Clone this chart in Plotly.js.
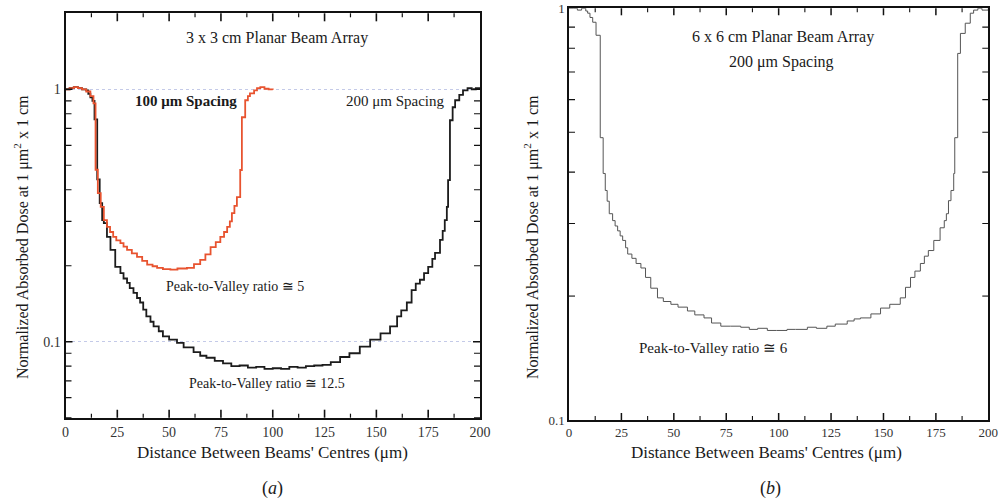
<!DOCTYPE html>
<html>
<head>
<meta charset="utf-8">
<script src="https://cdn.plot.ly/plotly-3.0.1.min.js"></script>
<style>html,body{margin:0;padding:0;background:#fff;}#chart{width:1001px;height:501px;}</style>
</head>
<body>
<div id="chart"></div>
<script>
// ---- Data ----
// Panel (a): 3 x 3 cm array, 200 um spacing (black)
const xA200 = [0,2,4,6,8,10,11,12,13,14,15.3,16.5,17.7,18.5,20,21.7,24,26.5,28,29.7,31,32.8,34.5,36,37.5,39,41,42.5,45,47,50,53.8,57,61.8,65,68,72,76,80,84,88,92,96,100,104,108,112,116,120,124,128,132.5,137,142,147,152,156.6,160,162,164.7,167,169,171,173,175,177,178.3,180.7,182,183,184,184.6,185.5,186.8,188,190,191.8,194,196,198,200];
const yA200 = [1.0,1.01,1.02,1.01,1.0,0.99,0.96,0.93,0.90,0.76,0.44,0.354,0.303,0.295,0.26,0.231,0.198,0.187,0.178,0.171,0.163,0.156,0.149,0.143,0.134,0.126,0.120,0.115,0.110,0.105,0.102,0.099,0.095,0.091,0.088,0.0864,0.084,0.082,0.080,0.0805,0.079,0.0795,0.078,0.0785,0.078,0.0795,0.079,0.080,0.0805,0.081,0.083,0.087,0.090,0.0956,0.102,0.108,0.115,0.126,0.133,0.143,0.160,0.170,0.176,0.187,0.198,0.213,0.225,0.253,0.275,0.303,0.342,0.437,0.754,0.849,0.905,0.95,0.99,1.01,1.0,1.01,1.0];
// Panel (a): 100 um spacing (red)
const xA100 = [0,2,4,6,8,10,12,13.5,14.5,15.6,17,18.5,20,21.5,23,24.5,26.5,28,29.7,32,34.5,37,39.4,42,44.2,47,50.6,54,58.6,62,65,67.5,70,72.5,74.7,76.5,78,79.3,80.3,81.5,82.7,84.3,85.1,86.7,88,89,91,92.4,94,96,98,100];
const yA100 = [1.0,1.01,1.02,1.01,1.0,0.98,0.94,0.88,0.48,0.388,0.342,0.303,0.285,0.272,0.26,0.252,0.246,0.238,0.231,0.224,0.217,0.209,0.202,0.199,0.196,0.194,0.193,0.195,0.196,0.203,0.211,0.222,0.237,0.248,0.26,0.272,0.285,0.30,0.323,0.345,0.374,0.479,0.775,0.905,0.94,0.964,0.99,1.01,1.02,1.005,1.0,0.995];
// Panel (b): 6 x 6 cm array, 200 um spacing
const xB200 = [0,2,4,6,8,8.9,10,11.3,12.9,14.9,16.3,17.3,18.2,19.2,20.8,22,23.2,24.4,25.6,27,28,30,32,34.3,36.5,39,42.2,45,48.6,52,56.5,60,64.4,68,72.4,77,81.9,86,90,94.6,99,104,108,113.7,118,123,127,132.7,136,139,144,148.6,153,158,160.5,162.9,165,167.6,169.5,171.4,174,177,179,180,181,182.2,183.5,184,185.4,186.7,189,191.4,193,195,197,200];
const yB200 = [1.0,1.0,0.99,1.0,0.985,0.973,0.95,0.925,0.86,0.485,0.397,0.361,0.34,0.317,0.305,0.296,0.288,0.28,0.273,0.262,0.253,0.247,0.24,0.234,0.222,0.209,0.198,0.194,0.191,0.188,0.184,0.18,0.177,0.172,0.169,0.169,0.168,0.166,0.167,0.165,0.165,0.166,0.166,0.168,0.167,0.169,0.171,0.174,0.176,0.177,0.181,0.187,0.191,0.198,0.21,0.222,0.23,0.24,0.25,0.258,0.273,0.293,0.305,0.317,0.341,0.361,0.397,0.485,0.777,0.869,0.92,0.973,0.99,1.0,0.99,1.0];

const xTickVals = [0,25,50,75,100,125,150,175,200];
const xMinorVals = [12.5,37.5,62.5,87.5,112.5,137.5,162.5,187.5];
const yTickVals = [0.1,1];
const yTickText = ['0.1','1'];
const yMinorA = [0.05,0.06,0.07,0.08,0.09,0.2,0.3,0.4,0.5,0.6,0.7,0.8,0.9];
const yMinorB = [0.2,0.3,0.4,0.5,0.6,0.7,0.8,0.9];

// ---- Layout helpers ----
const W = 1001, H = 501;
const FONT = '"Liberation Serif", "Times New Roman", serif';
function px(x){return x/W;}
function py(y){return 1 - y/H;}
function ann(text, x, y, size, extra){
  return Object.assign({text:text, xref:'paper', yref:'paper', x:px(x), y:py(y),
    xanchor:'center', yanchor:'middle', showarrow:false,
    font:{family:FONT, size:size, color:'#1a1a1a'}}, extra||{});
}

// Inward tick marks on all four sides, placed through the axes' own scales
function frameTicks(xa, ya, xVals, xLen, yVals, yLen, width){
  const out = [];
  const xr = xa + ' domain', yr = ya + ' domain';
  xVals.forEach(v => {
    out.push({type:'line', xref:xa, yref:yr, x0:v, x1:v, y0:0, y1:xLen, line:{color:'#111', width:width}});
    out.push({type:'line', xref:xa, yref:yr, x0:v, x1:v, y0:1, y1:1-xLen, line:{color:'#111', width:width}});
  });
  yVals.forEach(v => {
    out.push({type:'line', xref:xr, yref:ya, x0:0, x1:yLen, y0:v, y1:v, line:{color:'#111', width:width}});
    out.push({type:'line', xref:xr, yref:ya, x0:1, x1:1-yLen, y0:v, y1:v, line:{color:'#111', width:width}});
  });
  return out;
}

const traces = [
  {x:xA200, y:yA200, xaxis:'x', yaxis:'y', mode:'lines', line:{color:'#1c1c1c', width:1.8, shape:'hv'}, name:'200 μm Spacing', showlegend:false},
  {x:xA100, y:yA100, xaxis:'x', yaxis:'y', mode:'lines', line:{color:'#e8532f', width:1.8, shape:'hv'}, name:'100 μm Spacing', showlegend:false},
  {x:xB200, y:yB200, xaxis:'x2', yaxis:'y2', mode:'lines', line:{color:'#555555', width:1, shape:'hv'}, name:'200 μm Spacing (6 x 6 cm)', showlegend:false}
];

const shapes = [].concat(
  frameTicks('x', 'y', xTickVals.slice(1, -1), 8/404, yTickVals, 7/415, 1.6),
  frameTicks('x', 'y', xMinorVals, 4/404, yMinorA, 6/415, 1.2),
  frameTicks('x2', 'y2', xTickVals.slice(1, -1), 7/412, [], 0, 1.5),
  frameTicks('x2', 'y2', xMinorVals, 4/412, yMinorB, 6/419, 1.1)
);

const layout = {
  width:W, height:H, margin:{l:0,r:0,t:0,b:0}, showlegend:false,
  xaxis: {domain:[65.5/W, 480/W], anchor:'y', range:[0,200], tickmode:'array', tickvals:xTickVals,
    ticks:'', showline:true, linewidth:2, linecolor:'#111', mirror:true,
    showgrid:false, zeroline:false,
    tickfont:{family:FONT, size:14, color:'#333'}},
  yaxis: {domain:[1-417.7/H, 1-13.3/H], anchor:'x', type:'log', range:[Math.log10(0.05), Math.log10(2)],
    tickmode:'array', tickvals:yTickVals, ticktext:yTickText,
    ticks:'', showline:true, linewidth:2, linecolor:'#111', mirror:true,
    showgrid:true, gridcolor:'#c4cae8', griddash:'dot', zeroline:false,
    tickfont:{family:FONT, size:14, color:'#333'}},
  xaxis2: {domain:[569/W, 988.3/W], anchor:'y2', range:[0,200], tickmode:'array', tickvals:xTickVals,
    ticks:'', showline:true, linewidth:1.5, linecolor:'#111', mirror:true,
    showgrid:false, zeroline:false,
    tickfont:{family:FONT, size:13, color:'#333'}},
  yaxis2: {domain:[1-420/H, 1-8.3/H], anchor:'x2', type:'log', range:[-1,0],
    tickmode:'array', tickvals:yTickVals, ticktext:yTickText,
    ticks:'', showline:true, linewidth:1.5, linecolor:'#111', mirror:true,
    showgrid:false, zeroline:false,
    tickfont:{family:FONT, size:13, color:'#333'}},
  shapes: shapes,
  annotations: [
    ann('3 x 3 cm Planar Beam Array', 277, 38, 16),
    ann('<b>100 μm Spacing</b>', 186, 101, 15),
    ann('200 μm Spacing', 395, 101, 15),
    ann('Peak-to-Valley ratio ≅ 5', 235, 286, 14),
    ann('Peak-to-Valley ratio ≅ 12.5', 267, 383, 14),
    ann("Distance Between Beams' Centres (μm)", 272, 452, 17),
    ann('Normalized Absorbed Dose at 1 μm<sup>2</sup> x 1 cm', 21, 237, 16, {textangle:-90}),
    ann('(<i>a</i>)', 272, 488, 18),
    ann('6 x 6 cm Planar Beam Array', 783, 37, 16),
    ann('200 μm Spacing', 781, 62, 16),
    ann('Peak-to-Valley ratio ≅ 6', 713, 348, 15),
    ann("Distance Between Beams' Centres (μm)", 766, 452, 17),
    ann('Normalized Absorbed Dose at 1 μm<sup>2</sup> x 1 cm', 531, 237, 16, {textangle:-90}),
    ann('(<i>b</i>)', 770, 488, 18)
  ]
};

Plotly.newPlot('chart', traces, layout, {displayModeBar:false});
</script>
</body>
</html>
